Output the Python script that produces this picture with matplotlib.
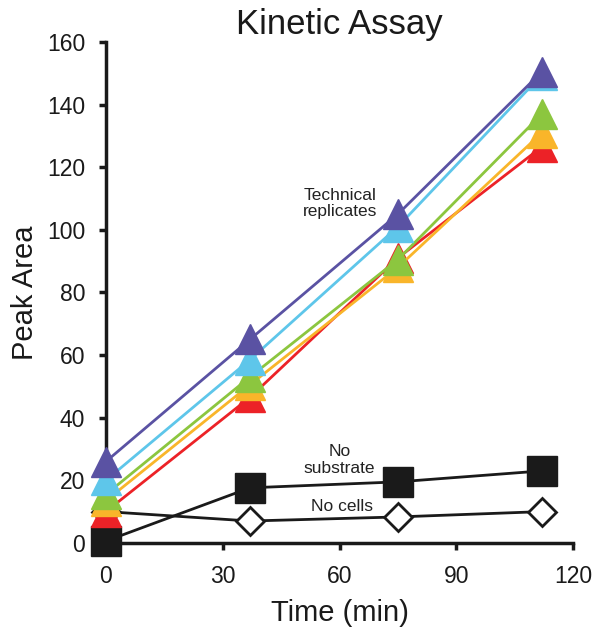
import matplotlib
matplotlib.use("Agg")
import matplotlib.pyplot as plt

plt.rcParams['font.family'] = ['Liberation Sans', 'DejaVu Sans']

time = [0, 37, 75, 112]
red = [10, 46.5, 91, 126.5]
orange = [13.5, 50.5, 88, 131]
green = [15.5, 53, 90.5, 137]
cyan = [20, 58.5, 101, 149.5]
purple = [26, 65, 105, 150.5]
no_substrate = [0.6, 17.6, 19.5, 23]
no_cells = [10, 7, 8.3, 10]

series = [
    (red, '#ec2227'),
    (orange, '#f9b52a'),
    (green, '#8cc63f'),
    (cyan, '#5ec6ea'),
    (purple, '#5a52a3'),
]

fig = plt.figure(figsize=(6.02, 6.35), dpi=100)
ax = fig.add_axes([0.176, 0.145, 0.776, 0.789])

ax.plot(time, no_cells, color='#1a1a1a', lw=2, marker='D', ms=14.5,
        mfc='white', mec='#1a1a1a', mew=2, clip_on=False, zorder=3)
ax.plot(time, no_substrate, color='#1a1a1a', lw=2, marker='s', ms=21,
        mfc='#1a1a1a', mec='#1a1a1a', clip_on=False, zorder=3)
for i, (vals, col) in enumerate(series):
    ax.plot(time, vals, color=col, lw=2, marker='^', ms=22, mfc=col,
            mec=col, clip_on=False, zorder=4 + i)

ax.set_xlim(0, 120)
ax.set_ylim(0, 160)
ax.set_xticks([0, 30, 60, 90, 120])
ax.set_yticks(range(0, 161, 20))
for s in ['top', 'right']:
    ax.spines[s].set_visible(False)
for s in ['left', 'bottom']:
    ax.spines[s].set_linewidth(2.5)
    ax.spines[s].set_color('#1a1a1a')
ax.tick_params(direction='out', length=5, width=2.5, labelsize=16.5,
               colors='#1a1a1a')
ax.tick_params(axis='y', pad=10)
ax.tick_params(axis='x', pad=11)

ax.set_title('Kinetic Assay', fontsize=25, pad=6, color='#1a1a1a')
ax.set_xlabel('Time (min)', fontsize=21, labelpad=8, color='#1a1a1a')
ax.set_ylabel('Peak Area', fontsize=21, labelpad=6, color='#1a1a1a')

ax.text(60.2, 108.5, 'Technical\nreplicates', fontsize=12.5, ha='center',
        va='center', color='#222222', linespacing=1.1)
ax.text(60, 26.5, 'No\nsubstrate', fontsize=12.5, ha='center', va='center',
        color='#222222', linespacing=1.1)
ax.text(60.6, 11.5, 'No cells', fontsize=12.5, ha='center', va='center',
        color='#222222')

fig.savefig('out.png', dpi=100)
